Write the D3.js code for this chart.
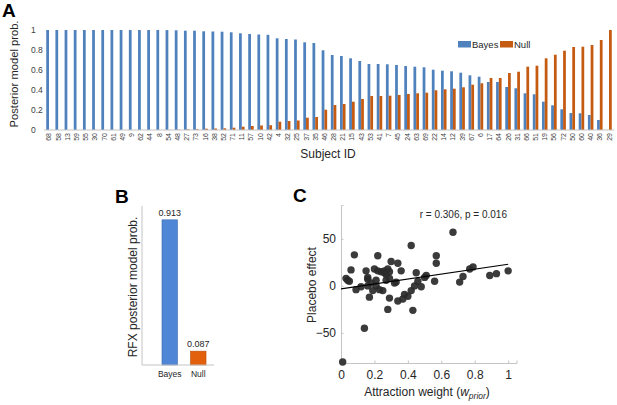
<!DOCTYPE html>
<html>
<head>
<meta charset="utf-8">
<script src="https://cdn.jsdelivr.net/npm/d3@7"></script>
<style>
  html, body { margin: 0; padding: 0; background: #fff; }
  svg { display: block; font-family: Arial, "Liberation Sans", sans-serif; }
</style>
</head>
<body>
<svg id="fig" width="617" height="405"></svg>
<script>
// ---- panel A: per-subject posterior model probabilities ----
var subjectIds = [68, 58, 13, 59, 55, 30, 70, 61, 49, 9, 62, 44, 8, 54, 48, 27, 73, 16, 38, 52,
    71, 11, 57, 10, 42, 4, 32, 25, 37, 35, 46, 28, 21, 15, 43, 53, 41, 7, 45, 24,
    63, 69, 22, 14, 12, 39, 67, 6, 17, 64, 26, 31, 66, 51, 19, 56, 72, 50, 60, 40, 36, 29];
var bayesProb = [1, 1, 1, 1, 1, 1, 1, 1, 1, 1, 1, 1, 1, 0.999, 0.997, 0.993, 0.993, 0.987, 0.985, 0.983,
    0.977, 0.967, 0.960, 0.955, 0.952, 0.917, 0.910, 0.905, 0.877, 0.870, 0.797, 0.750, 0.740, 0.717, 0.690, 0.660, 0.660, 0.657, 0.650, 0.640,
    0.633, 0.627, 0.603, 0.593, 0.587, 0.573, 0.547, 0.533, 0.480, 0.480, 0.430, 0.417, 0.367, 0.357, 0.283, 0.247, 0.207, 0.170, 0.167, 0.150, 0.100, 0.000];
var nullProb = [0, 0, 0, 0, 0, 0, 0, 0, 0, 0, 0, 0, 0, 0.001, 0.003, 0.007, 0.007, 0.013, 0.015, 0.017,
    0.023, 0.033, 0.040, 0.045, 0.048, 0.083, 0.090, 0.095, 0.123, 0.130, 0.203, 0.250, 0.260, 0.283, 0.310, 0.340, 0.340, 0.343, 0.350, 0.360,
    0.367, 0.373, 0.397, 0.407, 0.413, 0.427, 0.453, 0.467, 0.520, 0.520, 0.570, 0.583, 0.633, 0.643, 0.717, 0.753, 0.793, 0.830, 0.833, 0.850, 0.900, 1.000];
var modelNames = ['Bayes', 'Null'];
var probTicks = [0, 0.2, 0.4, 0.6, 0.8, 1];

// ---- panel B: RFX posterior ----
var rfxProb = [0.913, 0.087];

// ---- panel C: attraction weight vs placebo effect ----
var attractionWeight = [0.01, 0.03, 0.04, 0.05, 0.06, 0.08, 0.09, 0.12, 0.14, 0.15, 0.16, 0.16, 0.16, 0.17, 0.19, 0.20,
    0.21, 0.22, 0.22, 0.21, 0.23, 0.24, 0.25, 0.26, 0.27, 0.27, 0.28, 0.28, 0.29, 0.29, 0.30, 0.29, 0.32, 0.33,
    0.34, 0.34, 0.36, 0.37, 0.38, 0.40, 0.42, 0.42, 0.43, 0.44, 0.45, 0.46, 0.48, 0.50, 0.51, 0.56, 0.57, 0.57,
    0.67, 0.71, 0.73, 0.77, 0.79, 0.89, 0.93, 1.00, 0.26, 0.18];
var placeboEffect = [-81, 8, 6, 5, 17, 33, -4, -1, -45, 16, 7, 9, 0, -12, -5, 18,
    6, 32, 16, 0, -4, 15, -5, 16, 12, 6, -25, 18, -13, 15, 26, 8, 3, 4,
    24, -16, 16, -14, -9, -11, 43, -5, -26, 0, 14, 5, -1, 9, 11, 5, 24, 32,
    57, 4, 10, 18, 20, 11, 13, 16, 14, 3];
var fitLine = [-3.2, 26.2]; // intercept, slope
var weightTicks = [0, 0.2, 0.4, 0.6, 0.8, 1];
var effectTicks = [-50, 0, 50];
var statText = 'r = 0.306, p = 0.016';

var svg = d3.select('#fig');
var axisGrey = '#c4c4c4';
var textCol = '#262626';

function panelLetter(txt, x, y) {
    svg.append('text')
        .attr('x', x).attr('y', y)
        .attr('font-size', 19).attr('font-weight', 'bold')
        .attr('fill', '#000')
        .text(txt);
}

/*---------------- A ----------------*/
panelLetter('A', 2, 17);

var xA = d3.scaleBand().domain(subjectIds).range([44.4, 613.6]).paddingInner(0.4).paddingOuter(0.2);
var xAsub = d3.scaleBand().domain(modelNames).range([0, xA.bandwidth()]).padding(0);
var yA = d3.scaleLinear().domain([0, 1]).range([130, 30]);
var colA = { Bayes: '#4f81bd', Null: '#c55a11' };

var gA = svg.append('g');

gA.selectAll('text.ytick')
    .data(probTicks)
    .enter().append('text')
    .attr('class', 'ytick')
    .attr('x', 31)
    .attr('y', function(d) { return yA(d) + 3; })
    .attr('font-size', 8.5).attr('fill', '#404040')
    .text(function(d) { return d3.format('~g')(d); });

var groups = gA.selectAll('g.subj')
    .data(subjectIds)
    .enter().append('g')
    .attr('class', 'subj')
    .attr('transform', function(d) { return 'translate(' + xA(d) + ',0)'; });

groups.selectAll('rect')
    .data(function(d, i) { return [{ m: 'Bayes', v: bayesProb[i] }, { m: 'Null', v: nullProb[i] }]; })
    .enter().append('rect')
    .attr('x', function(d) { return xAsub(d.m); })
    .attr('width', xAsub.bandwidth())
    .attr('y', function(d) { return yA(d.v); })
    .attr('height', function(d) { return yA(0) - yA(d.v); })
    .attr('fill', function(d) { return colA[d.m]; });

gA.append('line')
    .attr('x1', 44).attr('x2', 614)
    .attr('y1', yA(0)).attr('y2', yA(0))
    .attr('stroke', axisGrey).attr('stroke-width', 1);

gA.selectAll('text.xtick')
    .data(subjectIds)
    .enter().append('text')
    .attr('class', 'xtick')
    .attr('text-anchor', 'end')
    .attr('font-size', 7).attr('fill', '#404040')
    .attr('transform', function(d) {
        return 'translate(' + (xA(d) + xA.bandwidth() / 2 + 2.5) + ',133) rotate(-90)';
    })
    .text(function(d) { return d; });

gA.append('text')
    .attr('x', 328).attr('y', 158)
    .attr('text-anchor', 'middle')
    .attr('font-size', 12).attr('fill', textCol)
    .text('Subject ID');

gA.append('text')
    .attr('transform', 'translate(18,74) rotate(-90)')
    .attr('text-anchor', 'middle')
    .attr('font-size', 11.2).attr('fill', textCol)
    .text('Posterior model prob.');

// legend
var legend = gA.append('g').attr('transform', 'translate(458,41)');
var legendX = [0, 42];
modelNames.forEach(function(m, i) {
    legend.append('rect')
        .attr('x', legendX[i]).attr('y', 0)
        .attr('width', 13).attr('height', 6.5)
        .attr('fill', colA[m]);
    legend.append('text')
        .attr('x', legendX[i] + 14).attr('y', 7)
        .attr('font-size', 9.5).attr('fill', textCol)
        .text(m);
});

/*---------------- B ----------------*/
panelLetter('B', 115, 203);

var xB = d3.scaleBand().domain(modelNames).range([152, 216]).paddingInner(0.456).paddingOuter(0.35);
var yB = d3.scaleLinear().domain([0, 1]).range([365, 206]);
var colB = { Bayes: '#4f86d6', Null: '#e2600c' };
var strokeB = { Bayes: '#3f6fae', Null: '#b84e0a' };

var gB = svg.append('g');

gB.selectAll('rect')
    .data(modelNames)
    .enter().append('rect')
    .attr('x', function(d) { return xB(d); })
    .attr('width', xB.bandwidth())
    .attr('y', function(d, i) { return yB(rfxProb[i]); })
    .attr('height', function(d, i) { return yB(0) - yB(rfxProb[i]); })
    .attr('fill', function(d) { return colB[d]; })
    .attr('stroke', function(d) { return strokeB[d]; })
    .attr('stroke-width', 0.6);

gB.selectAll('text.val')
    .data(modelNames)
    .enter().append('text')
    .attr('class', 'val')
    .attr('x', function(d) { return xB(d) + xB.bandwidth() / 2; })
    .attr('y', function(d, i) { return yB(rfxProb[i]) - 4; })
    .attr('text-anchor', 'middle')
    .attr('font-size', 9).attr('fill', textCol)
    .text(function(d, i) { return d3.format('.3f')(rfxProb[i]); });

gB.append('line')
    .attr('x1', 142).attr('x2', 142)
    .attr('y1', yB(1)).attr('y2', yB(0))
    .attr('stroke', axisGrey);
gB.append('line')
    .attr('x1', 142).attr('x2', 214)
    .attr('y1', yB(0)).attr('y2', yB(0))
    .attr('stroke', axisGrey);

gB.selectAll('text.cat')
    .data(modelNames)
    .enter().append('text')
    .attr('class', 'cat')
    .attr('x', function(d) { return xB(d) + xB.bandwidth() / 2; })
    .attr('y', 377)
    .attr('text-anchor', 'middle')
    .attr('font-size', 8.5).attr('fill', textCol)
    .text(function(d) { return d; });

gB.append('text')
    .attr('transform', 'translate(137,287) rotate(-90)')
    .attr('text-anchor', 'middle')
    .attr('font-size', 12).attr('fill', textCol)
    .text('RFX posterior model prob.');

/*---------------- C ----------------*/
panelLetter('C', 293, 202);

var xC = d3.scaleLinear().domain([0, 1.05]).range([341, 516.5]);
var yC = d3.scaleLinear().domain([-82, 86]).range([363, 205]);

var gC = svg.append('g');

gC.append('g')
    .attr('transform', 'translate(0,' + yC.range()[0] + ')')
    .call(d3.axisBottom(xC).tickValues(weightTicks).tickSize(-2.5).tickPadding(7)
        .tickFormat(d3.format('~g')))
    .call(function(g) {
        g.select('.domain').attr('stroke', axisGrey);
        g.selectAll('.tick line').attr('stroke', axisGrey);
        g.selectAll('.tick text').attr('font-size', 12).attr('fill', textCol)
            .attr('font-family', 'Arial, "Liberation Sans", sans-serif');
    });

gC.append('g')
    .attr('transform', 'translate(' + xC.range()[0] + ',0)')
    .call(d3.axisLeft(yC).tickValues(effectTicks).tickSize(-2.5).tickPadding(5)
        .tickFormat(d3.format('d')))
    .call(function(g) {
        g.select('.domain').attr('stroke', axisGrey);
        g.selectAll('.tick line').attr('stroke', axisGrey);
        g.selectAll('.tick text').attr('font-size', 12).attr('fill', textCol)
            .attr('font-family', 'Arial, "Liberation Sans", sans-serif');
    });

gC.selectAll('circle')
    .data(attractionWeight)
    .enter().append('circle')
    .attr('cx', function(d) { return xC(d); })
    .attr('cy', function(d, i) { return yC(placeboEffect[i]); })
    .attr('r', 3.7)
    .attr('fill', '#2a2a2a')
    .attr('fill-opacity', 0.92);

gC.append('line')
    .attr('x1', xC(0)).attr('x2', xC(1))
    .attr('y1', yC(fitLine[0])).attr('y2', yC(fitLine[0] + fitLine[1]))
    .attr('stroke', '#000').attr('stroke-width', 1.2);

gC.append('text')
    .attr('x', 507).attr('y', 218)
    .attr('text-anchor', 'end')
    .attr('font-size', 10).attr('fill', textCol)
    .text(statText);

gC.append('text')
    .attr('transform', 'translate(316,285) rotate(-90)')
    .attr('text-anchor', 'middle')
    .attr('font-size', 12).attr('fill', textCol)
    .text('Placebo effect');

var xl = gC.append('text')
    .attr('x', 427).attr('y', 396)
    .attr('text-anchor', 'middle')
    .attr('font-size', 12).attr('fill', textCol);
xl.append('tspan').text('Attraction weight (');
xl.append('tspan').attr('font-style', 'italic').text('w');
xl.append('tspan').attr('font-style', 'italic').attr('font-size', 8.5).attr('dy', 3).text('prior');
xl.append('tspan').attr('dy', -3).text(')');
</script>
</body>
</html>
